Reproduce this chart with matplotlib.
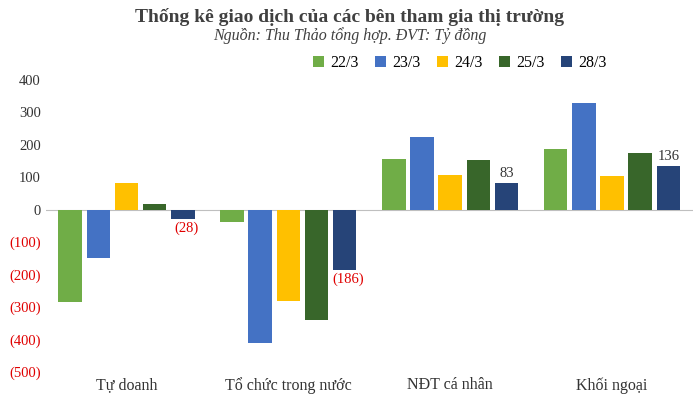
import matplotlib.pyplot as plt
import numpy as np

plt.rcParams["font.family"] = "Liberation Serif"

categories = ["Tự doanh", "Tổ chức trong nước", "NĐT cá nhân", "Khối ngoại"]
series = ["22/3", "23/3", "24/3", "25/3", "28/3"]
values = [
    [-285, -38, 155, 187],
    [-148, -412, 225, 330],
    [82, -283, 107, 105],
    [17, -340, 152, 175],
    [-28, -186, 83, 136],
]
colors = ["#70AD47", "#4472C4", "#FFC000", "#38662A", "#264478"]
yticks = [-500, -400, -300, -200, -100, 0, 100, 200, 300, 400]

fig = plt.figure(figsize=(7.0, 4.04), dpi=100)
ax = fig.add_axes([0.065, 0.08, 0.925, 0.738])

x = np.arange(len(categories))
w = 0.145
for i, (s, v, c) in enumerate(zip(series, values, colors)):
    ax.bar(x + (i - 2) * 1.2 * w, v, w, color=c, label=s, zorder=3)

# labels on last series
for xi, v in zip(x, values[4]):
    xp = xi + 2 * 1.2 * w
    if v < 0:
        ax.text(xp + 0.02, v - 8, "(%d)" % -v, ha="center", va="top", color="#E00000", fontsize=10.5)
    else:
        ax.text(xp, v + 8, "%d" % v, ha="center", va="bottom", color="#333333", fontsize=10.5)

ax.set_ylim(-500, 420)
ax.set_xlim(-0.5, 3.5)
ax.set_yticks(yticks)
ax.set_yticklabels([("(%d)" % -t) if t < 0 else str(t) for t in yticks], fontsize=10.5)
for t, lab in zip(yticks, ax.get_yticklabels()):
    lab.set_color("#E00000" if t < 0 else "#333333")
ax.set_xticks(x)
ax.set_xticklabels(categories, fontsize=11.5, color="#333333")
ax.tick_params(length=0)
ax.axhline(0, color="#BFBFBF", lw=0.8, zorder=2)
for sp in ax.spines.values():
    sp.set_visible(False)
ax.xaxis.set_tick_params(pad=4)

fig.text(0.5, 0.945, "Thống kê giao dịch của các bên tham gia thị trường", ha="center",
         fontsize=14, fontweight="bold", color="#404040")
fig.text(0.5, 0.9, "Nguồn: Thu Thảo tổng hợp. ĐVT: Tỷ đồng", ha="center",
         fontsize=11.5, style="italic", color="#404040")
ax.legend(loc="upper center", bbox_to_anchor=(0.64, 1.11), ncol=5, frameon=False,
          fontsize=11.5, handlelength=0.7, handleheight=0.7, columnspacing=1.0, handletextpad=0.4)

fig.savefig("out.png")
